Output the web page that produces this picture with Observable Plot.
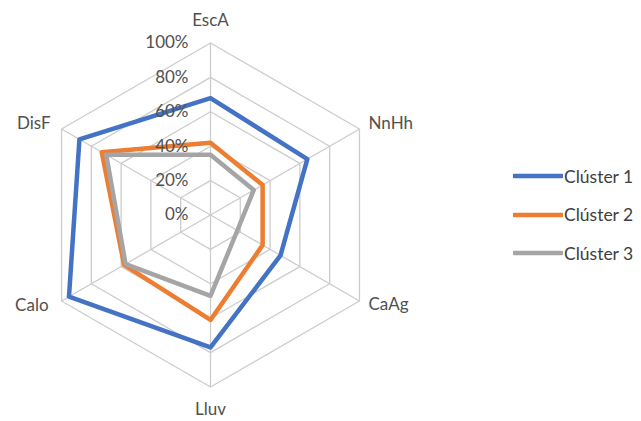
<!DOCTYPE html>
<html>
<head>
<meta charset="utf-8">
<script src="https://cdn.jsdelivr.net/npm/d3@7"></script>
<script src="https://cdn.jsdelivr.net/npm/@observablehq/plot@0.6"></script>
<style>
  html, body { margin: 0; padding: 0; background: #fff; overflow: hidden; }
  #wrap { position: relative; width: 641px; height: 421px; font-family: Lato, "Open Sans", sans-serif; }
  #legend { position: absolute; left: 513px; top: 157px; }
  .item { display: flex; align-items: center; height: 38.5px; font-size: 17.5px; color: #404040; white-space: nowrap; }
  .item svg { display: block; margin-right: 1px; }
</style>
</head>
<body>
<div id="wrap"><div id="legend"></div></div>
<script>
const axesNames = ["EscA", "NnHh", "CaAg", "Lluv", "Calo", "DisF"];
const cluster1 = [0.68, 0.65, 0.47, 0.77, 0.95, 0.88];
const cluster2 = [0.42, 0.35, 0.35, 0.61, 0.58, 0.73];
const cluster3 = [0.35, 0.29, 0.18, 0.47, 0.57, 0.70];
const seriesNames = ["Clúster 1", "Clúster 2", "Clúster 3"];
const seriesColors = ["#4472C4", "#ED7D31", "#A5A5A5"];
const levels = [0, 0.2, 0.4, 0.6, 0.8, 1.0];
const tickLabels = ["0%", "20%", "40%", "60%", "80%", "100%"];

const n = axesNames.length;
const ang = i => i * 2 * Math.PI / n;
const px = (r, i) => r * Math.sin(ang(i));
const py = (r, i) => r * Math.cos(ang(i));

const seriesValues = [cluster1, cluster2, cluster3];
const seriesData = seriesValues.flatMap((vals, s) =>
  vals.map((v, i) => ({series: seriesNames[s], i, value: v})));

const gridData = levels.filter(l => l > 0).flatMap(l => axesNames.map((a, i) => ({level: l, i})));
const spokes = axesNames.map((a, i) => ({name: a, i}));

const labelFill = "#505050";
const chart = Plot.plot({
  width: 641,
  height: 421,
  margin: 0,
  x: {domain: [-1, 1], range: [38, 382], axis: null},
  y: {domain: [-1, 1], range: [386.5, 42.5], axis: null},
  color: {domain: seriesNames, range: seriesColors},
  style: {fontFamily: "Lato, 'Open Sans', sans-serif", fontSize: "17px", background: "transparent"},
  marks: [
    Plot.line(gridData, {x: d => px(d.level, d.i), y: d => py(d.level, d.i), z: "level", curve: "linear-closed", stroke: "#cccccc", strokeWidth: 1.3}),
    Plot.link(spokes, {x1: d => 0, y1: d => 0, x2: d => px(1, d.i), y2: d => py(1, d.i), stroke: "#cccccc", strokeWidth: 1.3}),
    Plot.line(seriesData, {x: d => px(d.value, d.i), y: d => py(d.value, d.i), z: "series", stroke: "series", curve: "linear-closed", strokeWidth: 4.5, strokeLinejoin: "round"}),
    Plot.text(levels, {x: d => 0, y: d => d, text: (d, k) => tickLabels[k], textAnchor: "end", dx: -22, fill: labelFill}),
    Plot.text(spokes, {filter: d => d.i === 0, x: d => px(1, d.i), y: d => py(1, d.i), text: "name", dy: -22.5, fill: labelFill}),
    Plot.text(spokes, {filter: d => d.i === 3, x: d => px(1, d.i), y: d => py(1, d.i), text: "name", dy: 23, fill: labelFill}),
    Plot.text(spokes, {filter: d => d.i === 1, x: d => px(1, d.i), y: d => py(1, d.i), text: "name", textAnchor: "start", dx: 9, dy: -5, fill: labelFill}),
    Plot.text(spokes, {filter: d => d.i === 2, x: d => px(1, d.i), y: d => py(1, d.i), text: "name", textAnchor: "start", dx: 9, dy: 4, fill: labelFill}),
    Plot.text(spokes, {filter: d => d.i === 4, x: d => px(1, d.i), y: d => py(1, d.i), text: "name", textAnchor: "end", dx: -13, dy: 4.5, fill: labelFill}),
    Plot.text(spokes, {filter: d => d.i === 5, x: d => px(1, d.i), y: d => py(1, d.i), text: "name", textAnchor: "end", dx: -11, dy: -5.5, fill: labelFill})
  ]
});
document.getElementById("wrap").insertBefore(chart, document.getElementById("legend"));

const legend = d3.select("#legend");
seriesNames.forEach((name, k) => {
  const item = legend.append("div").attr("class", "item");
  const s = item.append("svg").attr("width", 50).attr("height", 10);
  s.append("line").attr("x1", 1).attr("x2", 49).attr("y1", 5).attr("y2", 5)
    .attr("stroke", seriesColors[k]).attr("stroke-width", 4.5).attr("stroke-linecap", "round");
  item.append("span").text(name);
});
</script>
</body>
</html>
